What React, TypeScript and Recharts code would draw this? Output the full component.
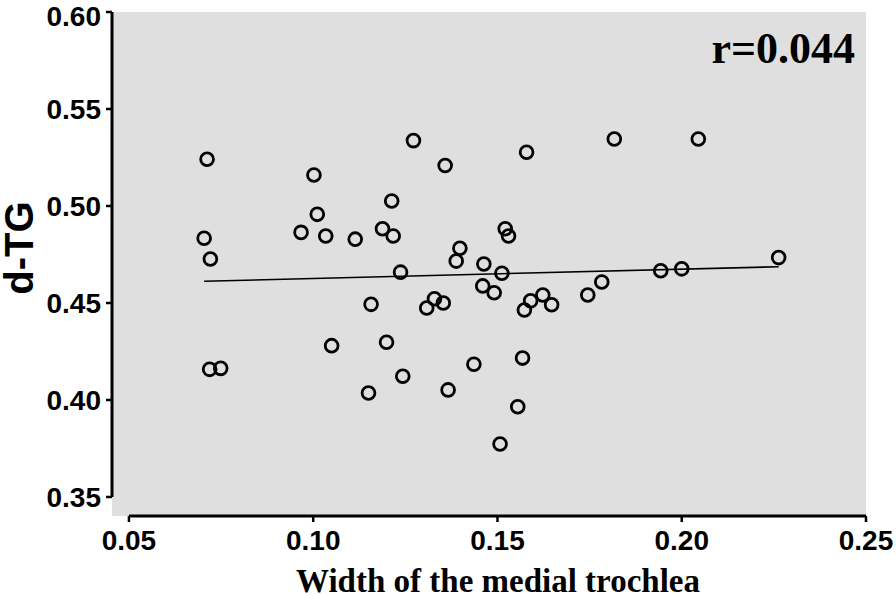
import { ScatterChart, Scatter, XAxis, YAxis, CartesianGrid, ReferenceLine } from 'recharts';

// width of medial trochlea vs d-TG
const widthValues = [
  0.0712, 0.0704, 0.0721, 0.0719, 0.0749, 0.0967, 0.1002, 0.1011, 0.1034, 0.1050,
  0.1114, 0.1157, 0.1150, 0.1188, 0.1213, 0.1217, 0.1199, 0.1237, 0.1243, 0.1272,
  0.1308, 0.1329, 0.1353, 0.1358, 0.1366, 0.1398, 0.1388, 0.1436, 0.1463, 0.1460,
  0.1491, 0.1512, 0.1521, 0.1530, 0.1507, 0.1555, 0.1568, 0.1573, 0.1579, 0.1590,
  0.1623, 0.1647, 0.1745, 0.1783, 0.1817, 0.1943, 0.2000, 0.2045, 0.2263,
];
const dtgValues = [
  0.5241, 0.4834, 0.4727, 0.4158, 0.4163, 0.4864, 0.5160, 0.4957, 0.4845, 0.4280,
  0.4829, 0.4493, 0.4036, 0.4883, 0.5026, 0.4845, 0.4298, 0.4659, 0.4122, 0.5337,
  0.4474, 0.4522, 0.4500, 0.5209, 0.4052, 0.4782, 0.4716, 0.4184, 0.4701, 0.4588,
  0.4553, 0.4653, 0.4883, 0.4845, 0.3773, 0.3965, 0.4216, 0.4464, 0.5277, 0.4511,
  0.4541, 0.4491, 0.4541, 0.4608, 0.5345, 0.4666, 0.4676, 0.5345, 0.4734,
];

const fitX = [0.0704, 0.2263];
const fitY = [0.4612, 0.4687];

const xTicks = [0.05, 0.1, 0.15, 0.2, 0.25];
const yTicks = [0.35, 0.4, 0.45, 0.5, 0.55, 0.6];
const xDomain = [0.0454, 0.25];
const yDomain = [0.3402, 0.6];

const points = widthValues.map((x, i) => ({ x, y: dtgValues[i] }));
const fitLine = fitX.map((x, i) => ({ x, y: fitY[i] }));

const tickStyle = { fontFamily: '"Liberation Sans", Arial, sans-serif', fontWeight: 700, fontSize: 28, fill: '#000' };

const Ring = (props: any) => (
  <circle cx={props.cx} cy={props.cy} r={6.4} fill="none" stroke="#000" strokeWidth={2.8} />
);

export default function App() {
  return (
    <div style={{ position: 'absolute', left: 0, top: 0 }}>
      <ScatterChart width={896} height={595} margin={{ top: 12, right: 30, bottom: 0, left: 0 }}>
        <CartesianGrid fill="#dfdfdf" stroke="none" horizontal={false} vertical={false} />
        <XAxis
          type="number"
          dataKey="x"
          domain={xDomain}
          ticks={xTicks}
          allowDataOverflow
          height={79}
          axisLine={false}
          tickLine={{ stroke: '#000', strokeWidth: 2.5 }}
          tickSize={6}
          tickMargin={8}
          tick={tickStyle}
          tickFormatter={(v: number) => v.toFixed(2)}
          label={{
            content: () => (
              <text
                x={498}
                y={592}
                textAnchor="middle"
                style={{ fontFamily: '"Liberation Serif", "Times New Roman", serif', fontWeight: 700, fontSize: 33, fill: '#000' }}
              >
                Width of the medial trochlea
              </text>
            ),
          }}
        />
        <YAxis
          type="number"
          dataKey="y"
          domain={yDomain}
          ticks={yTicks}
          allowDataOverflow
          width={112}
          axisLine={false}
          tickLine={{ stroke: '#000', strokeWidth: 2.5 }}
          tickSize={6}
          tickMargin={5}
          tick={tickStyle}
          tickFormatter={(v: number) => v.toFixed(2)}
          label={{
            content: () => (
              <text
                x={33}
                y={248}
                transform="rotate(-90 33 248)"
                textAnchor="middle"
                style={{ fontFamily: '"Liberation Sans", Arial, sans-serif', fontWeight: 700, fontSize: 40, fill: '#000' }}
              >
                d-TG
              </text>
            ),
          }}
        />
        <ReferenceLine
          segment={[{ x: xTicks[0], y: yDomain[0] }, { x: xTicks[xTicks.length - 1], y: yDomain[0] }]}
          stroke="#000"
          strokeWidth={3}
          ifOverflow="visible"
        />
        <ReferenceLine
          segment={[{ x: xDomain[0], y: yTicks[0] }, { x: xDomain[0], y: yTicks[yTicks.length - 1] }]}
          stroke="#000"
          strokeWidth={3}
          ifOverflow="visible"
        />
        <Scatter data={fitLine} line={{ stroke: '#000', strokeWidth: 1.6 }} shape={() => <g />} isAnimationActive={false} />
        <Scatter data={points} shape={Ring} isAnimationActive={false} />
        <text
          x={855}
          y={63}
          textAnchor="end"
          style={{ fontFamily: '"Liberation Serif", "Times New Roman", serif', fontWeight: 700, fontSize: 44, fill: '#000' }}
        >
          r=0.044
        </text>
      </ScatterChart>
    </div>
  );
}
